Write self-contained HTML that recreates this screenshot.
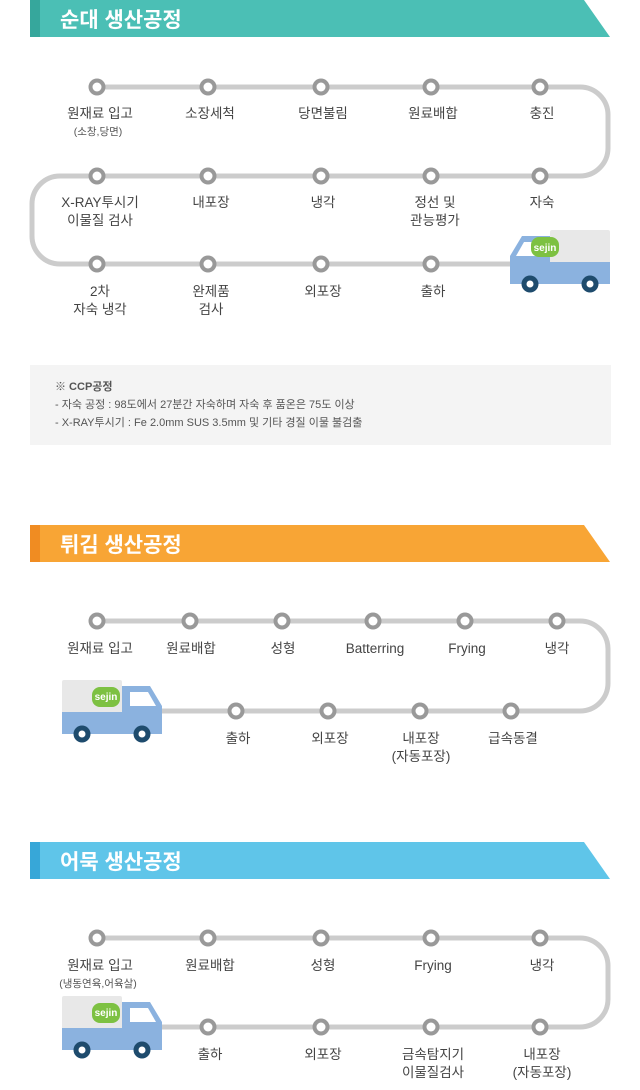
<!DOCTYPE html>
<html><head><meta charset="utf-8"><style>
html,body{margin:0;padding:0;background:#fff;}
svg{display:block;}
text{font-family:"Liberation Sans","Noto Sans CJK KR",sans-serif;}
.l{font-size:13.5px;fill:#444;text-anchor:middle;}
.s{font-size:10.5px;fill:#555;text-anchor:middle;}
.h{font-size:21px;font-weight:bold;fill:#fff;}
.b{font-size:11px;fill:#555;}
</style></head><body>
<svg width="640" height="1090" viewBox="0 0 640 1090" xmlns="http://www.w3.org/2000/svg">
<defs>
<g id="n"><circle r="8.5" fill="#999"/><circle r="4.5" fill="#fff"/></g>
<g id="tr">
<rect x="0" y="0" width="60" height="34" rx="2" fill="#e8e8e8"/>
<path d="M60 6 L88 6 L100 26 L100 54 L0 54 L0 32 L60 32 Z" fill="#8bb2df"/>
<path d="M68 12 L86 12 L94 26 L68 26 Z" fill="#fff"/>
<circle cx="20" cy="54" r="8.5" fill="#1e4b6d"/><circle cx="20" cy="54" r="3.5" fill="#fff"/>
<circle cx="80" cy="54" r="8.5" fill="#1e4b6d"/><circle cx="80" cy="54" r="3.5" fill="#fff"/>
</g>
</defs>

<path d="M30 0 H584 L610 37 H30 Z" fill="#4bbfb5"/>
<rect x="30" y="0" width="10" height="37" fill="#36a79c"/>
<text x="60" y="27" class="h">순대 생산공정</text>

<path d="M97 87 H580 A28 28 0 0 1 608 115 V148 A28 28 0 0 1 580 176 H60 A28 28 0 0 0 32 204 V236 A28 28 0 0 0 60 264 H515" fill="none" stroke="#cccccc" stroke-width="5"/>
<g>
<use href="#n" x="97" y="87"/><use href="#n" x="208" y="87"/><use href="#n" x="321" y="87"/><use href="#n" x="431" y="87"/><use href="#n" x="540" y="87"/>
<use href="#n" x="97" y="176"/><use href="#n" x="208" y="176"/><use href="#n" x="321" y="176"/><use href="#n" x="431" y="176"/><use href="#n" x="540" y="176"/>
<use href="#n" x="97" y="264"/><use href="#n" x="208" y="264"/><use href="#n" x="321" y="264"/><use href="#n" x="431" y="264"/>
</g>
<text class="l" x="100" y="118">원재료 입고</text><text class="s" x="98" y="135">(소창,당면)</text>
<text class="l" x="210" y="118">소장세척</text>
<text class="l" x="323" y="118">당면불림</text>
<text class="l" x="433" y="118">원료배합</text>
<text class="l" x="542" y="118">충진</text>
<text class="l" x="100" y="207">X-RAY투시기</text><text class="l" x="100" y="225">이물질 검사</text>
<text class="l" x="211" y="207">내포장</text>
<text class="l" x="323" y="207">냉각</text>
<text class="l" x="435" y="207">정선 및</text><text class="l" x="435" y="225">관능평가</text>
<text class="l" x="542" y="207">자숙</text>
<text class="l" x="100" y="296">2차</text><text class="l" x="100" y="314">자숙 냉각</text>
<text class="l" x="211" y="296">완제품</text><text class="l" x="211" y="314">검사</text>
<text class="l" x="323" y="296">외포장</text>
<text class="l" x="433" y="296">출하</text>
<use href="#tr" transform="translate(610,230) scale(-1,1)"/>
<rect x="531" y="237" width="28" height="20" rx="8" fill="#7dc142"/>
<text x="545" y="251" font-size="10" font-weight="bold" fill="#fff" text-anchor="middle">sejin</text>

<rect x="30" y="365" width="581" height="80" fill="#f4f4f4"/>
<text class="b" x="55" y="390" font-weight="bold" fill="#444">※ CCP공정</text>
<text class="b" x="55" y="408">- 자숙 공정 : 98도에서 27분간 자숙하며 자숙 후 품온은 75도 이상</text>
<text class="b" x="55" y="426">- X-RAY투시기 : Fe 2.0mm SUS 3.5mm 및 기타 경질 이물 불검출</text>

<path d="M30 525 H584 L610 562 H30 Z" fill="#f8a535"/>
<rect x="30" y="525" width="10" height="37" fill="#f08c22"/>
<text x="60" y="552" class="h">튀김 생산공정</text>
<path d="M97 621 H580 A28 28 0 0 1 608 649 V683 A28 28 0 0 1 580 711 H155" fill="none" stroke="#cccccc" stroke-width="5"/>
<use href="#n" x="97" y="621"/><use href="#n" x="190" y="621"/><use href="#n" x="282" y="621"/><use href="#n" x="373" y="621"/><use href="#n" x="465" y="621"/><use href="#n" x="557" y="621"/>
<use href="#n" x="236" y="711"/><use href="#n" x="328" y="711"/><use href="#n" x="420" y="711"/><use href="#n" x="511" y="711"/>
<text class="l" x="100" y="653">원재료 입고</text>
<text class="l" x="191" y="653">원료배합</text>
<text class="l" x="283" y="653">성형</text>
<text class="l" x="375" y="653">Batterring</text>
<text class="l" x="467" y="653">Frying</text>
<text class="l" x="557" y="653">냉각</text>
<text class="l" x="238" y="743">출하</text>
<text class="l" x="330" y="743">외포장</text>
<text class="l" x="421" y="743">내포장</text><text class="l" x="421" y="761">(자동포장)</text>
<text class="l" x="513" y="743">급속동결</text>
<use href="#tr" transform="translate(62,680)"/>
<rect x="92" y="687" width="28" height="20" rx="8" fill="#7dc142"/>
<text x="106" y="700" font-size="10" font-weight="bold" fill="#fff" text-anchor="middle">sejin</text>

<path d="M30 842 H584 L610 879 H30 Z" fill="#5fc5e9"/>
<rect x="30" y="842" width="10" height="37" fill="#37a7d8"/>
<text x="60" y="869" class="h">어묵 생산공정</text>
<path d="M97 938 H580 A28 28 0 0 1 608 966 V999 A28 28 0 0 1 580 1027 H155" fill="none" stroke="#cccccc" stroke-width="5"/>
<use href="#n" x="97" y="938"/><use href="#n" x="208" y="938"/><use href="#n" x="321" y="938"/><use href="#n" x="431" y="938"/><use href="#n" x="540" y="938"/>
<use href="#n" x="208" y="1027"/><use href="#n" x="321" y="1027"/><use href="#n" x="431" y="1027"/><use href="#n" x="540" y="1027"/>
<text class="l" x="100" y="970">원재료 입고</text><text class="s" x="98" y="987">(냉동연육,어육살)</text>
<text class="l" x="210" y="970">원료배합</text>
<text class="l" x="323" y="970">성형</text>
<text class="l" x="433" y="970">Frying</text>
<text class="l" x="542" y="970">냉각</text>
<text class="l" x="210" y="1059">출하</text>
<text class="l" x="323" y="1059">외포장</text>
<text class="l" x="433" y="1059">금속탐지기</text><text class="l" x="433" y="1077">이물질검사</text>
<text class="l" x="542" y="1059">내포장</text><text class="l" x="542" y="1077">(자동포장)</text>
<use href="#tr" transform="translate(62,996)"/>
<rect x="92" y="1003" width="28" height="20" rx="8" fill="#7dc142"/>
<text x="106" y="1016" font-size="10" font-weight="bold" fill="#fff" text-anchor="middle">sejin</text>
</svg>
</body></html>
